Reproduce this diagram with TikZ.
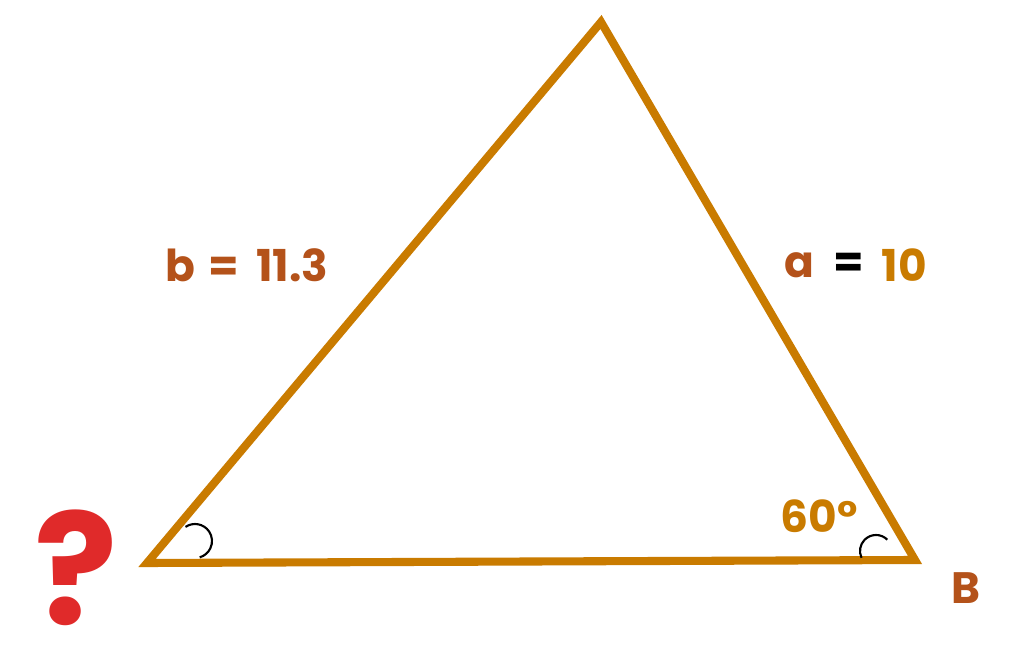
\documentclass[tikz,border=0pt]{standalone}
\usepackage{fontspec}
\setmainfont{Poppins}
\usepackage{tikz}
\usetikzlibrary{positioning,calc}
\definecolor{sideorange}{HTML}{C97B00}
\definecolor{labelbrown}{HTML}{B4521A}
\definecolor{qred}{HTML}{E02A2A}
\tikzset{
	side/.style = {draw=sideorange, line width=2.3pt, line join=miter},
	anglemark/.style = {draw=black, line width=0.6pt},
	lbl/.style = {font=\fontsize{12.5}{15}\selectfont\bfseries, inner sep=0},
	brownlbl/.style = {lbl, text=labelbrown},
	orangelbl/.style = {lbl, text=sideorange}
}

\begin{document}
\begin{tikzpicture}[x=0.01cm, y=-0.01cm]
	\useasboundingbox (0,0) rectangle (1024,655);
	% vertices
	\coordinate (C) at (601,22);
	\coordinate (A) at (147,563);
	\coordinate (B) at (915,560);

	\draw [side] (A) -- (B) -- (C) -- cycle;

	% angle marks
	\draw [anglemark] (195,541) ++(-124:17) arc (-124:74:17);
	\draw [anglemark] (876,551) ++(-45:16) arc (-45:-205:16);

	% labels
	\node [brownlbl] (bside) at (247,265) {b\hspace{0.13cm}=\hspace{0.17cm}11.3};
	\node [lbl] (aeq) at (849,265) {=};
	\node [brownlbl, left=0.18cm of aeq] (aname) {a};
	\node [orangelbl, right=0.16cm of aeq] (aval) {10};
	\node [orangelbl] (angB) at (819,516) {60°};
	\node [brownlbl] (nameB) at (966,588) {B};
	\node [text=qred, font=\fontsize{44}{50}\selectfont\bfseries, inner sep=0,
		text height=1.2cm, text depth=0cm, anchor=base] (ask) at (76,624) {?};
\end{tikzpicture}
\end{document}
